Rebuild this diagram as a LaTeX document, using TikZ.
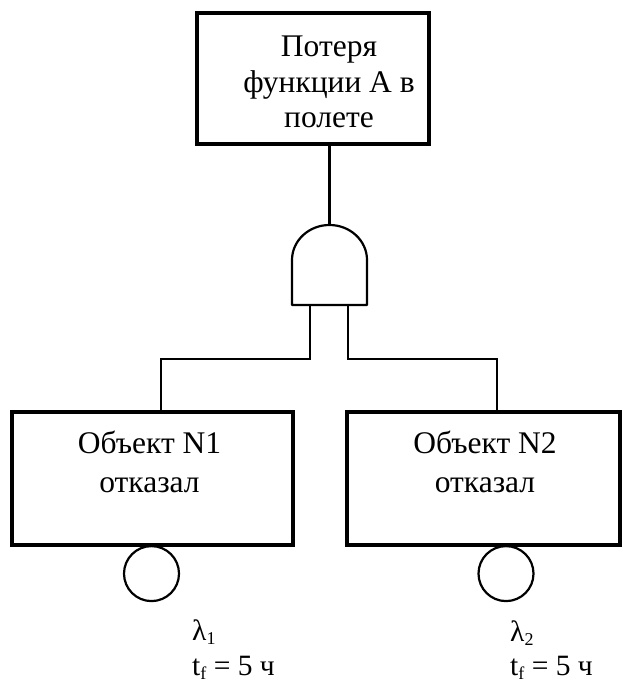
\documentclass[tikz,border=0pt]{standalone}
\usepackage{fontspec}
\setmainfont{Liberation Serif}
\newcommand{\lowidx}[1]{\raisebox{-0.14em}{\fontsize{18}{18}\selectfont #1}}
\begin{document}
\begin{tikzpicture}[x=1pt,y=-1pt,
  eventbox/.style={draw=black, line width=3.6pt, rectangle, inner sep=0pt},
  wire/.style={draw=black, line width=2.4pt},
  basic/.style={draw=black, line width=2.2pt, circle, inner sep=0pt, minimum size=55pt},
  boxtext/.style={align=center, inner sep=0pt, font=\fontsize{31.5}{35.5}\selectfont},
  lowtext/.style={align=center, inner sep=0pt, font=\fontsize{31.5}{39}\selectfont},
  param/.style={anchor=base west, inner sep=0pt, font=\fontsize{29.5}{34}\selectfont}]
\useasboundingbox (0,0) rectangle (622,684);

% top event
\node[eventbox, minimum width=232pt, minimum height=131pt] (top) at (313,78.5) {};
\node[boxtext] (toptext) at (329,82.2) {Потеря\\функции А в\\полете};

% AND gate
\coordinate (gtop) at (329.5,225);
\coordinate (gin1) at (310,305);
\coordinate (gin2) at (348,305);
\draw[line width=2.2pt, line join=round]
  (292,305) -- (292,260) arc[start angle=180, end angle=0, x radius=37.5pt, y radius=35pt]
  -- (367,305) -- cycle;

% intermediate events
\node[eventbox, minimum width=281pt, minimum height=133pt] (b1) at (152.5,478.5) {};
\node[eventbox, minimum width=273pt, minimum height=133pt] (b2) at (483.5,478.5) {};
\node[lowtext] (b1text) at (149.5,461.7) {Объект N1\\отказал};
\node[lowtext] (b2text) at (485,461.7) {Объект N2\\отказал};

% basic events
\node[basic, anchor=north] (c1) at (151.5,545) {};
\node[basic, anchor=north] (c2) at (506,545) {};

\node[param] (l1) at (192,640) {λ\lowidx{1}};
\node[param] (t1) at (192,675) {t\lowidx{f} = 5 ч};
\node[param] (l2) at (510,641) {λ\lowidx{2}};
\node[param] (t2) at (510,675) {t\lowidx{f} = 5 ч};

% connectors
\coordinate (j1) at (161,359);
\coordinate (j2) at (497,359);
\draw[wire] (gtop |- top.south) -- (gtop);
\draw[wire] (gin1) |- (j1) -- (j1 |- b1.north);
\draw[wire] (gin2) |- (j2) -- (j2 |- b2.north);
\end{tikzpicture}
\end{document}
